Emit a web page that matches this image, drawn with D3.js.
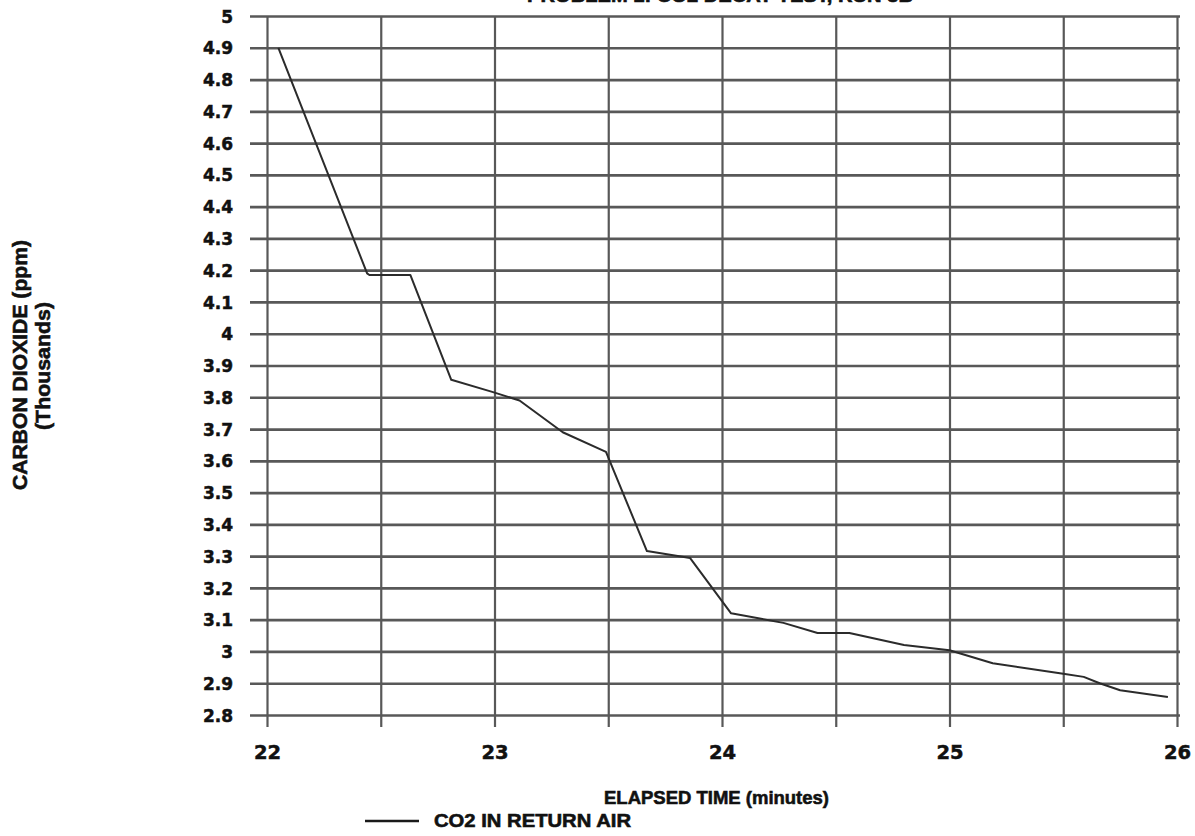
<!DOCTYPE html>
<html>
<head>
<meta charset="utf-8">
<script src="https://cdn.jsdelivr.net/npm/d3@7"></script>
<style>
  html, body { margin: 0; padding: 0; background: #ffffff; }
  svg { display: block; }
  .bold { font-family: "Liberation Sans", Arial, sans-serif; font-weight: bold; fill: #111;
          stroke: #111; stroke-width: 0.6px; }
  .num  { font-family: "DejaVu Sans", sans-serif; font-weight: bold; fill: #111;
          stroke: #111; stroke-width: 0.5px; }
</style>
</head>
<body>
<svg id="chart" width="1195" height="836"></svg>
<script>
// CO2 concentration in the return air during the decay period
const timeMin = [22.05, 22.44, 22.45, 22.63, 22.81, 22.99, 23.11, 23.30, 23.49,
                 23.67, 23.86, 24.04, 24.27, 24.42, 24.56, 24.61, 24.80, 25.00,
                 25.19, 25.50, 25.59, 25.66, 25.75, 25.96];
const co2Thousands = [4.90, 4.19, 4.185, 4.185, 3.855, 3.817, 3.79, 3.69, 3.628,
                      3.316, 3.294, 3.12, 3.09, 3.058, 3.058, 3.05, 3.02, 3.004,
                      2.963, 2.93, 2.92, 2.90, 2.878, 2.857];

const yTicks = [2.8, 2.9, 3, 3.1, 3.2, 3.3, 3.4, 3.5, 3.6, 3.7, 3.8, 3.9, 4,
                4.1, 4.2, 4.3, 4.4, 4.5, 4.6, 4.7, 4.8, 4.9, 5];
const xGrid = [22, 22.5, 23, 23.5, 24, 24.5, 25, 25.5, 26];
const xLabels = [22, 23, 24, 25, 26];

const titleText = "PROBLEM 1: CO2 DECAY TEST, RUN 3B";
const yTitle = "CARBON DIOXIDE (ppm)";
const yUnits = "(Thousands)";
const xTitle = "ELAPSED TIME (minutes)";
const seriesName = "CO2 IN RETURN AIR";

const svg = d3.select("#chart");

const plotLeft = 267, plotRight = 1177, plotTop = 16, plotBottom = 715;
const x = d3.scaleLinear().domain([22, 26]).range([plotLeft, plotRight]);
const y = d3.scaleLinear().domain([2.8, 5]).range([plotBottom, plotTop]);

const gridColor = "#585858";

// horizontal grid with labels on the left
const yAxis = d3.axisLeft(y)
  .tickValues(yTicks)
  .tickSize(-(plotRight + 3 - 250))
  .tickSizeOuter(0)
  .tickPadding(17)
  .tickFormat(d => d3.format("~g")(d));
const gy = svg.append("g").attr("transform", "translate(250,0)").call(yAxis);
gy.select(".domain").remove();
gy.selectAll(".tick line").attr("stroke", gridColor).attr("stroke-width", 2.7);
gy.selectAll(".tick text").attr("class", "num").style("font-size", "17px")
  .attr("dy", "0.36em");

// vertical grid every half minute, labelled on whole minutes
const xAxis = d3.axisBottom(x)
  .tickValues(xGrid)
  .tickSize(-(727 - plotTop))
  .tickSizeOuter(0)
  .tickPadding(18)
  .tickFormat(d => xLabels.includes(d) ? d3.format("d")(d) : "");
const gx = svg.append("g").attr("transform", "translate(0,727)").call(xAxis);
gx.select(".domain").remove();
gx.selectAll(".tick line").attr("stroke", gridColor).attr("stroke-width", 2.2);
gx.selectAll(".tick text").attr("class", "num").style("font-size", "19.5px");

// data line
const line = d3.line().x((d, i) => x(timeMin[i])).y(d => y(d));
svg.append("path")
  .datum(co2Thousands)
  .attr("d", line)
  .attr("fill", "none")
  .attr("stroke", "#2b2b2b")
  .attr("stroke-width", 2)
  .attr("stroke-linejoin", "round");

// title, mostly above the top edge of the page
svg.append("text").attr("class", "bold")
  .attr("x", 720).attr("y", 2)
  .attr("text-anchor", "middle")
  .attr("textLength", 386).attr("lengthAdjust", "spacingAndGlyphs")
  .style("font-size", "18px")
  .text(titleText);

// y axis titles
svg.append("text").attr("class", "bold")
  .attr("transform", "translate(19,365) rotate(-90)")
  .attr("text-anchor", "middle").attr("dominant-baseline", "central")
  .attr("textLength", 250).attr("lengthAdjust", "spacingAndGlyphs")
  .style("font-size", "21px")
  .text(yTitle);
svg.append("text").attr("class", "bold")
  .attr("transform", "translate(42,366) rotate(-90)")
  .attr("text-anchor", "middle").attr("dominant-baseline", "central")
  .attr("textLength", 128).attr("lengthAdjust", "spacingAndGlyphs")
  .style("font-size", "21px")
  .text(yUnits);

// x axis title
svg.append("text").attr("class", "bold")
  .attr("x", 604).attr("y", 797)
  .attr("dominant-baseline", "central")
  .attr("textLength", 225).attr("lengthAdjust", "spacingAndGlyphs")
  .style("font-size", "19px")
  .text(xTitle);

// legend
svg.append("line")
  .attr("x1", 365).attr("x2", 419).attr("y1", 821).attr("y2", 821)
  .attr("stroke", "#1a1a1a").attr("stroke-width", 2.5);
svg.append("text").attr("class", "bold")
  .attr("x", 434).attr("y", 820)
  .attr("dominant-baseline", "central")
  .attr("textLength", 197).attr("lengthAdjust", "spacingAndGlyphs")
  .style("font-size", "19px")
  .text(seriesName);
</script>
</body>
</html>
